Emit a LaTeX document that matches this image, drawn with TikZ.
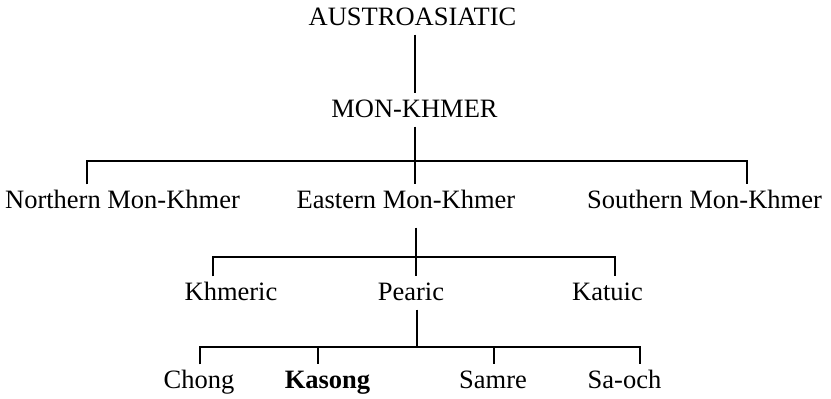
\documentclass[tikz,border=0pt]{standalone}
\usepackage{fontspec}
\setmainfont{Liberation Serif}

\begin{document}
\begin{tikzpicture}[x=1pt,y=-1pt,line width=1.2pt]
\tikzset{LangStyle/.style = {anchor=base,inner sep=4pt,
                             text height=19pt,text depth=5pt,
                             font=\fontsize{26.5}{30}\selectfont}}
\useasboundingbox (0,0) rectangle (831,399);
\node[LangStyle] (aa)  at (412.5,25) {AUSTROASIATIC};
\node[LangStyle] (mk)  at (414.5,117) {MON-KHMER};
\node[LangStyle] (nmk) at (122.5,208) {Northern Mon-Khmer};
\node[LangStyle] (emk) at (406,208) {Eastern Mon-Khmer};
\node[LangStyle] (smk) at (704.5,208) {Southern Mon-Khmer};
\node[LangStyle] (khm) at (231,300) {Khmeric};
\node[LangStyle] (pea) at (411,300) {Pearic};
\node[LangStyle] (kat) at (607.5,300) {Katuic};
\node[LangStyle] (cho) at (199,388) {Chong};
\node[LangStyle] (kas) at (327.5,388) {\bfseries Kasong};
\node[LangStyle] (sam) at (493,388) {Samre};
\node[LangStyle] (sao) at (624.5,388) {Sa-och};
\coordinate (j1) at (415,161); \coordinate (n1) at (87,161);
\coordinate (s1) at (747,161);
\coordinate (j2) at (416,257); \coordinate (k1) at (213,257);
\coordinate (k2) at (615,257);
\coordinate (j3) at (417,347); \coordinate (c1) at (200,347);
\coordinate (c2) at (318,347); \coordinate (c3) at (494,347);
\coordinate (c4) at (640,347);
\draw (aa.south -| j1) -- (mk.north -| j1);
\draw (mk.south -| j1) -- (emk.north -| j1);
\draw (nmk.north -| n1) -- (n1) -- (s1) -- (smk.north -| s1);
\draw[shorten <=10pt] (emk.south -| j2) -- (pea.north -| j2);
\draw (khm.north -| k1) -- (k1) -- (k2) -- (kat.north -| k2);
\draw (pea.south -| j3) -- (j3);
\draw (cho.north -| c1) -- (c1) -- (c4) -- (sao.north -| c4);
\draw (c2) -- (kas.north -| c2);
\draw (c3) -- (sam.north -| c3);
\end{tikzpicture}
\end{document}
